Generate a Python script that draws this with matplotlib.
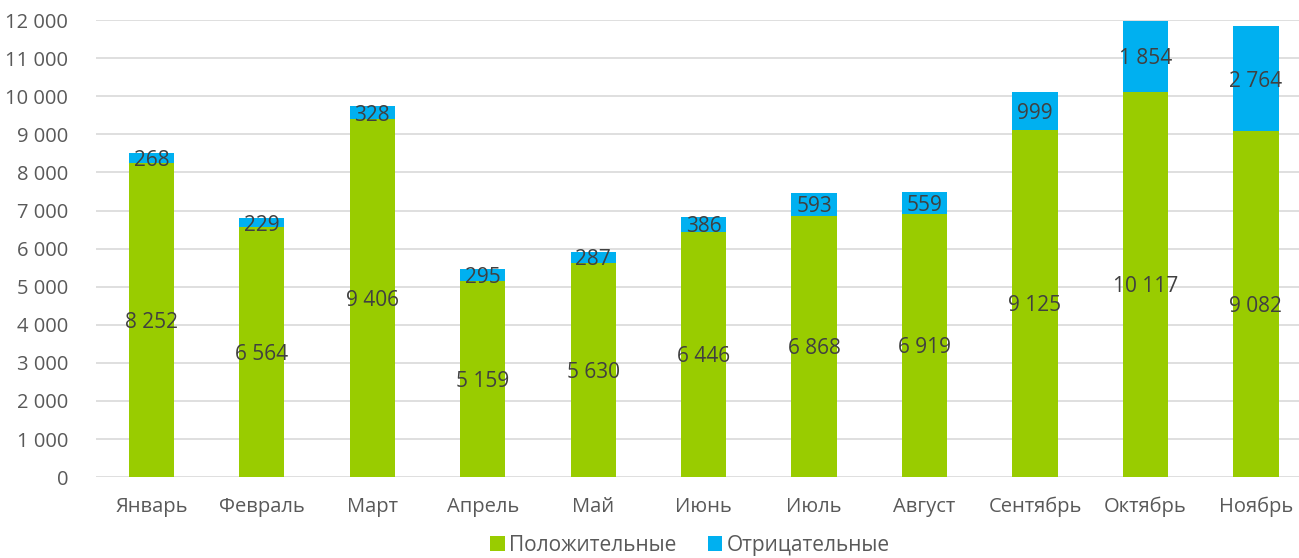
import matplotlib.pyplot as plt
from matplotlib.ticker import FuncFormatter, MultipleLocator

months = ['Январь', 'Февраль', 'Март', 'Апрель', 'Май', 'Июнь', 'Июль',
          'Август', 'Сентябрь', 'Октябрь', 'Ноябрь']
positive = [8252, 6564, 9406, 5159, 5630, 6446, 6868, 6919, 9125, 10117, 9082]
negative = [268, 229, 328, 295, 287, 386, 593, 559, 999, 1854, 2764]

green = '#99CC00'
blue = '#00B0F0'

plt.rcParams['font.family'] = ['Open Sans', 'DejaVu Sans']


def fmt(v):
    return f'{v:,}'.replace(',', ' ')


fig = plt.figure(figsize=(12.99, 5.58), dpi=100)
ax = fig.add_axes([0.074, 0.145, 0.926, 0.819])

x = range(len(months))
b1 = ax.bar(x, positive, width=0.41, color=green, label='Положительные', zorder=3)
b2 = ax.bar(x, negative, width=0.41, bottom=positive, color=blue,
            label='Отрицательные', zorder=3)

# labels centred in each segment
for i in x:
    ax.text(i, positive[i] / 2, fmt(positive[i]), ha='center',
            va='center_baseline', fontsize=15, color='#404040', zorder=4)
    ax.text(i, positive[i] + negative[i] / 2, fmt(negative[i]), ha='center',
            va='center_baseline', fontsize=15, color='#404040', zorder=4)

ax.set_ylim(0, 12000)
ax.set_xlim(-0.5, 10.39)
ax.yaxis.set_major_locator(MultipleLocator(1000))
ax.yaxis.set_major_formatter(FuncFormatter(lambda v, p: fmt(int(v))))
ax.grid(axis='y', color='#D9D9D9', linewidth=1.2, zorder=0)
ax.set_xticks(list(x))
ax.set_xticklabels(months)
ax.tick_params(axis='both', length=0, labelsize=14.5, labelcolor='#595959')
ax.tick_params(axis='x', pad=14)
ax.tick_params(axis='y', pad=20)
for s in ax.spines.values():
    s.set_visible(False)

fig.legend(handles=[b1, b2], loc='lower center', bbox_to_anchor=(0.531, -0.03),
           ncol=2, frameon=False, fontsize=15, handlelength=0.7,
           handleheight=0.7, handletextpad=0.2, columnspacing=1.5,
           labelcolor='#595959')

fig.savefig('out.png', dpi=100)
